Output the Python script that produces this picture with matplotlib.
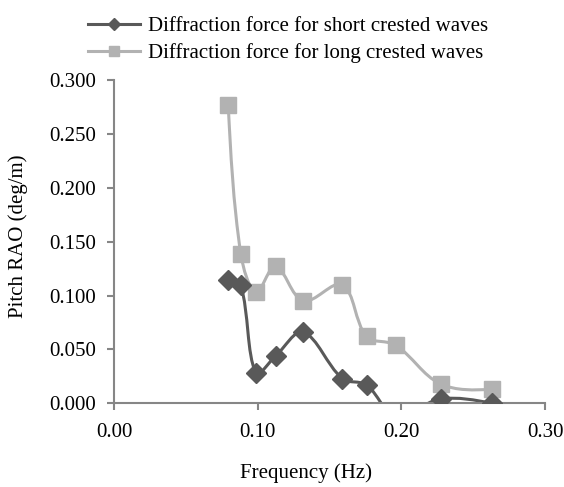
import numpy as np
import matplotlib.pyplot as plt
from matplotlib.path import Path
from matplotlib.patches import PathPatch
from matplotlib.lines import Line2D

plt.rcParams['font.family'] = ['Liberation Serif', 'DejaVu Serif']

# data
freq = [0.0795, 0.0882, 0.0988, 0.1125, 0.1317, 0.1589, 0.1758, 0.1960, 0.2273, 0.2630]
short_crested = [0.114, 0.110, 0.028, 0.044, 0.066, 0.023, 0.017, -0.012, 0.004, 0.000]
long_crested = [0.277, 0.139, 0.103, 0.127, 0.095, 0.110, 0.062, 0.054, 0.018, 0.013]

labels = ["Diffraction force for short crested waves",
          "Diffraction force for long crested waves"]
x_ticks = [0.00, 0.10, 0.20, 0.30]
y_ticks = [0.000, 0.050, 0.100, 0.150, 0.200, 0.250, 0.300]

DARK = '#595959'
LIGHT = '#b2b2b2'
AXIS = '#868686'
FS = 15


def smooth_path(ax, x, y, t=0.35):
    """Excel style smoothed line, control points worked out in pixel space"""
    pts = ax.transData.transform(np.column_stack([x, y]))
    n = len(pts)
    before = [pts[0]] * n
    after = [pts[-1]] * n
    for i in range(1, n - 1):
        d01 = np.hypot(*(pts[i] - pts[i - 1]))
        d12 = np.hypot(*(pts[i + 1] - pts[i]))
        tang = pts[i + 1] - pts[i - 1]
        before[i] = pts[i] - t * d01 / (d01 + d12) * tang
        after[i] = pts[i] + t * d12 / (d01 + d12) * tang
    after[0] = pts[0] + (before[1] - pts[0]) * 0.5
    before[-1] = pts[-1] + (after[-2] - pts[-1]) * 0.5
    verts = [pts[0]]
    codes = [Path.MOVETO]
    for i in range(n - 1):
        verts += [after[i], before[i + 1], pts[i + 1]]
        codes += [Path.CURVE4] * 3
    verts = ax.transData.inverted().transform(np.array(verts))
    return Path(verts, codes)


fig = plt.figure(figsize=(5.64, 4.87), dpi=100)
ax = fig.add_axes([114 / 564, 1 - 403.3 / 487, (545 - 114) / 564, (403.3 - 80) / 487])
ax.set_xlim(0, 0.30)
ax.set_ylim(0, 0.30)

for y, color, marker, ms in [(long_crested, LIGHT, 's', 11.5),
                             (short_crested, DARK, 'D', 10)]:
    ax.add_patch(PathPatch(smooth_path(ax, freq, y), facecolor='none',
                           edgecolor=color, lw=2.2, zorder=2))
    ax.plot(freq, y, linestyle='none', marker=marker, markersize=ms,
            color=color, markeredgecolor=color, zorder=3)

ax.set_xticks(x_ticks)
ax.set_xticklabels([f"{v:.2f}" for v in x_ticks])
ax.set_yticks(y_ticks)
ax.set_yticklabels([f"{v:.3f}" for v in y_ticks])

for side in ['top', 'right']:
    ax.spines[side].set_visible(False)
for side in ['left', 'bottom']:
    ax.spines[side].set_color(AXIS)
    ax.spines[side].set_linewidth(1.5)
ax.tick_params(direction='out', length=5, width=1.5, color=AXIS,
               labelsize=FS, labelcolor='black')
ax.tick_params(axis='y', pad=8)
ax.tick_params(axis='x', pad=9)

fig.text(306 / 564, 1 - 473 / 487, "Frequency (Hz)", ha='center', va='center', fontsize=FS)
fig.text(18 / 564, 1 - 236 / 487, "Pitch RAO (deg/m)", ha='center', va='center',
         rotation=90, fontsize=FS)

handles = [Line2D([], [], color=DARK, lw=2.2, marker='D', markersize=6),
           Line2D([], [], color=LIGHT, lw=2.2, marker='s', markersize=7)]
fig.legend(handles, labels, loc='upper left', bbox_to_anchor=(80 / 564, 1 - 8 / 487),
           frameon=False, fontsize=FS, handlelength=2.5, handletextpad=0.35,
           labelspacing=0.35, borderaxespad=0)

fig.savefig('out.png', dpi=100)
